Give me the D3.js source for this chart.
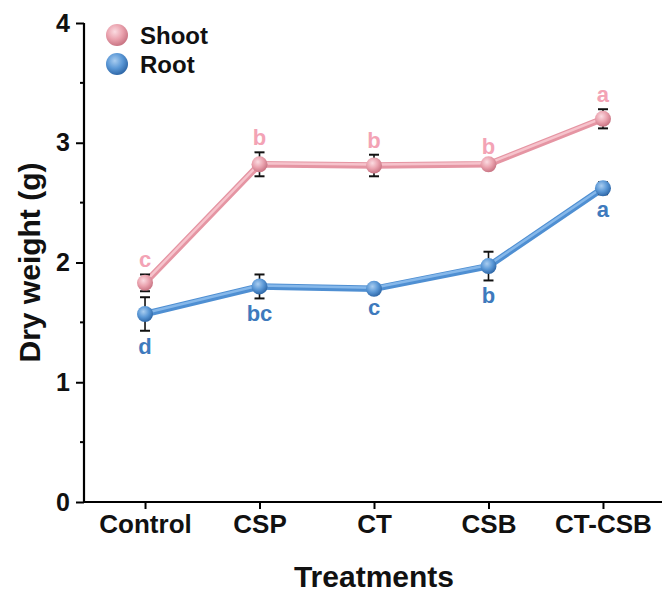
<!DOCTYPE html>
<html>
<head>
<meta charset="utf-8">
<script src="https://cdn.jsdelivr.net/npm/d3@7"></script>
<style>
  html, body { margin: 0; padding: 0; background: #fff; }
  svg { display: block; }
</style>
</head>
<body>
<svg id="chart" width="662" height="596"></svg>
<script>
// Treatments on the x axis
const categories = ["Control", "CSP", "CT", "CSB", "CT-CSB"];

// Shoot dry weight (g): mean, error, significance letter
const shootMean = [1.83, 2.82, 2.81, 2.82, 3.20];
const shootErr  = [0.07, 0.10, 0.09, 0.03, 0.08];
const shootSig  = ["c", "b", "b", "b", "a"];

// Root dry weight (g): mean, error, significance letter
const rootMean = [1.57, 1.80, 1.78, 1.97, 2.62];
const rootErr  = [0.14, 0.10, 0.03, 0.12, 0.05];
const rootSig  = ["d", "bc", "c", "b", "a"];

const yTicks = [0, 1, 2, 3, 4];
const yMinorTicks = [0.5, 1.5, 2.5, 3.5];

const svg = d3.select("#chart");
const fontMain = "'Liberation Sans', Arial, Helvetica, sans-serif";

const x = d3.scalePoint().domain(categories).range([84, 664]).padding(0.533);
const y = d3.scaleLinear().domain([0, 4]).range([502, 23]);

// sphere gradients for markers
const defs = svg.append("defs");
function sphere(id, light, mid, dark) {
  const g = defs.append("radialGradient").attr("id", id)
    .attr("cx", "40%").attr("cy", "35%").attr("r", "65%");
  g.append("stop").attr("offset", "0%").attr("stop-color", light);
  g.append("stop").attr("offset", "55%").attr("stop-color", mid);
  g.append("stop").attr("offset", "100%").attr("stop-color", dark);
}
sphere("ballShoot", "#fbdbe1", "#eaa2ae", "#c97584");
sphere("ballRoot", "#a9cdf0", "#5b98d6", "#2f68a8");

// axes
const yAxis = d3.axisLeft(y).tickValues(yTicks).tickFormat(d3.format("d")).tickSize(8).tickPadding(6);
const gy = svg.append("g").attr("transform", "translate(84,0)").call(yAxis);
gy.select(".domain").attr("stroke", "#000").attr("stroke-width", 2.2).attr("d", `M0,${y(4)}V${y(0)}`);
gy.selectAll(".tick line").attr("stroke", "#000").attr("stroke-width", 2);
gy.selectAll(".tick text").attr("font-family", fontMain).attr("font-weight", "bold")
  .attr("font-size", 25).attr("fill", "#111");

svg.append("g").selectAll("line").data(yMinorTicks).join("line")
  .attr("x1", 84).attr("x2", 80).attr("y1", d => y(d)).attr("y2", d => y(d))
  .attr("stroke", "#000").attr("stroke-width", 2);

const xAxis = d3.axisBottom(x).tickSize(7).tickPadding(6);
const gx = svg.append("g").attr("transform", `translate(0,${y(0)})`).call(xAxis);
gx.select(".domain").attr("stroke", "#000").attr("stroke-width", 2.2).attr("d", "M83,0H662");
gx.selectAll(".tick line").attr("stroke", "#000").attr("stroke-width", 2);
gx.selectAll(".tick text").attr("font-family", fontMain).attr("font-weight", "bold")
  .attr("font-size", 26).attr("fill", "#111");

// axis titles
svg.append("text").attr("x", x("CT")).attr("y", 587).attr("text-anchor", "middle")
  .attr("font-family", fontMain).attr("font-weight", "bold").attr("font-size", 30)
  .attr("fill", "#111").text("Treatments");
svg.append("text").attr("transform", `translate(40,${y(2)}) rotate(-90)`).attr("text-anchor", "middle")
  .attr("font-family", fontMain).attr("font-weight", "bold").attr("font-size", 30)
  .attr("fill", "#111").text("Dry weight (g)");

// a series: tube-like line, error bars, sphere markers, letters
function drawSeries(mean, err, sig, opt) {
  const pts = categories.map((c, i) => ({ c, v: mean[i], e: err[i], s: sig[i] }));
  const line = d3.line().x(d => x(d.c)).y(d => y(d.v));
  const g = svg.append("g");
  g.append("path").datum(pts).attr("d", line).attr("fill", "none")
    .attr("stroke", opt.lineDark).attr("stroke-width", 6.5).attr("stroke-linecap", "round");
  g.append("path").datum(pts).attr("d", line).attr("fill", "none")
    .attr("stroke", opt.lineLight).attr("stroke-width", 2.5).attr("stroke-linecap", "round")
    .attr("transform", "translate(0,-1)");

  const eb = g.append("g").selectAll("g").data(pts).join("g");
  eb.append("line").attr("x1", d => x(d.c)).attr("x2", d => x(d.c))
    .attr("y1", d => y(d.v + d.e)).attr("y2", d => y(d.v - d.e))
    .attr("stroke", "#111").attr("stroke-width", 1.6);
  [1, -1].forEach(k => {
    eb.append("line").attr("x1", d => x(d.c) - 5).attr("x2", d => x(d.c) + 5)
      .attr("y1", d => y(d.v + k * d.e)).attr("y2", d => y(d.v + k * d.e))
      .attr("stroke", "#111").attr("stroke-width", 2);
  });

  g.append("g").selectAll("circle").data(pts).join("circle")
    .attr("cx", d => x(d.c)).attr("cy", d => y(d.v)).attr("r", 8)
    .attr("fill", `url(#${opt.ball})`);

  g.append("g").selectAll("text").data(pts).join("text")
    .attr("x", d => x(d.c))
    .attr("y", d => opt.above ? y(d.v + d.e) - 7 : y(d.v - d.e) + 23)
    .attr("text-anchor", "middle").attr("font-family", fontMain).attr("font-weight", "bold")
    .attr("font-size", 22).attr("fill", opt.text).text(d => d.s);
}

drawSeries(shootMean, shootErr, shootSig,
  { lineDark: "#e595a3", lineLight: "#f6c3cc", ball: "ballShoot", text: "#f3a3b5", above: true });
drawSeries(rootMean, rootErr, rootSig,
  { lineDark: "#4f8fd2", lineLight: "#86b8ea", ball: "ballRoot", text: "#3e7abd", above: false });

// legend
const legend = [
  { name: "Shoot", ball: "ballShoot", yy: 35 },
  { name: "Root", ball: "ballRoot", yy: 64 }
];
const lg = svg.append("g").selectAll("g").data(legend).join("g");
lg.append("circle").attr("cx", 117).attr("cy", d => d.yy).attr("r", 11).attr("fill", d => `url(#${d.ball})`);
lg.append("text").attr("x", 140).attr("y", d => d.yy + 8.5).attr("font-family", fontMain)
  .attr("font-weight", "bold").attr("font-size", 24).attr("fill", "#111").text(d => d.name);
</script>
</body>
</html>
